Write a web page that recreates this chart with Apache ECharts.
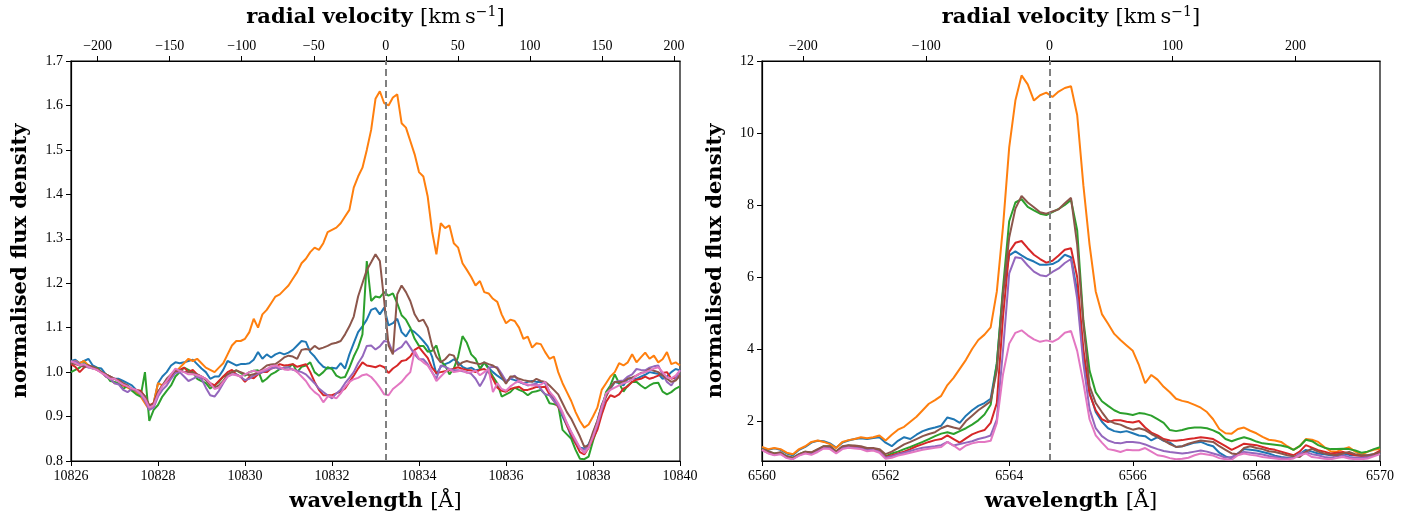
<!DOCTYPE html>
<html>
<head>
<meta charset="utf-8">
<script src="https://cdn.jsdelivr.net/npm/echarts@6/dist/echarts.min.js"></script>
<style>
  html, body { margin: 0; padding: 0; background: #fff; }
  #chart { width: 1419px; height: 520px; }
</style>
</head>
<body>
<div id="chart"></div>
<script>
// ---------- Left panel (He I 10830) ----------
const LEFT_START = 10826, LEFT_STEP = 0.1, LEFT_N = 141;
const LAMBDA0_LEFT = 10833.24;
const leftXTicks = [10826, 10840, 2];
const leftVelRange = [-218.5, 204.2];
const leftVelTicks = [-200, -150, -100, -50, 0, 50, 100, 150, 200];

const leftBlue = [1.025,1.028,1.02,1.025,1.03,1.015,1.01,1.008,0.995,0.99,
0.985,0.985,0.98,0.975,0.97,0.96,0.955,0.945,0.92,0.93,
0.975,0.99,1.0,1.015,1.022,1.02,1.022,1.025,1.028,1.018,
1.008,1.0,0.985,0.99,0.99,1.005,1.025,1.02,1.015,1.018,
1.018,1.02,1.028,1.045,1.03,1.04,1.033,1.04,1.044,1.04,
1.044,1.05,1.06,1.07,1.068,1.045,1.035,1.022,1.012,1.008,
1.01,1.008,1.02,1.008,1.04,1.065,1.09,1.103,1.118,1.14,
1.144,1.13,1.145,1.105,1.11,1.12,1.09,1.08,1.096,1.09,
1.081,1.07,1.058,1.035,0.995,1.012,1.018,1.022,1.029,1.022,
1.012,1.007,1.01,1.004,1.006,1.022,1.01,1.0,0.992,0.985,
0.978,0.985,0.982,0.978,0.974,0.978,0.98,0.978,0.978,0.975,
0.955,0.94,0.925,0.9,0.88,0.855,0.84,0.83,0.828,0.838,
0.86,0.89,0.925,0.95,0.962,0.978,0.975,0.97,0.985,0.985,
0.985,0.99,0.994,1.0,0.998,0.996,0.985,0.99,1.0,1.007,1.004];

const leftOrange = [1.02,1.025,1.02,1.025,1.015,1.01,1.005,1.0,0.99,0.985,
0.975,0.975,0.97,0.965,0.96,0.955,0.945,0.93,0.915,0.93,
0.975,0.97,0.98,0.99,1.0,1.01,1.02,1.03,1.025,1.03,
1.02,1.01,1.005,1.0,1.01,1.02,1.04,1.06,1.07,1.07,
1.075,1.09,1.12,1.10,1.13,1.14,1.155,1.17,1.175,1.185,
1.195,1.21,1.225,1.245,1.255,1.27,1.28,1.275,1.29,1.315,
1.32,1.325,1.335,1.35,1.365,1.415,1.44,1.46,1.5,1.545,
1.615,1.632,1.605,1.6,1.618,1.625,1.56,1.55,1.52,1.49,
1.45,1.44,1.395,1.317,1.265,1.335,1.324,1.33,1.29,1.28,
1.245,1.23,1.214,1.195,1.205,1.18,1.177,1.165,1.158,1.13,
1.11,1.118,1.115,1.1,1.075,1.08,1.055,1.065,1.063,1.045,
1.03,1.035,1.0,0.975,0.955,0.935,0.91,0.89,0.875,0.882,
0.9,0.92,0.96,0.975,0.99,1.0,1.02,1.015,1.022,1.04,
1.022,1.033,1.044,1.03,1.037,1.022,1.029,1.045,1.018,1.022,1.015];

const leftGreen = [1.0,1.005,1.01,1.02,1.012,1.008,1.01,1.0,0.995,0.98,
0.978,0.975,0.962,0.97,0.958,0.95,0.945,1.0,0.89,0.915,
0.926,0.945,0.958,0.97,0.99,1.0,1.01,1.005,1.0,0.985,
0.98,0.975,0.963,0.97,0.978,0.99,0.995,1.0,1.004,0.998,
0.992,1.0,1.003,1.004,0.978,0.985,0.995,1.0,1.007,1.01,
1.011,1.018,1.0,1.012,1.015,1.022,1.0,0.992,1.0,1.011,
1.007,0.992,0.987,0.989,1.01,1.035,1.055,1.085,1.25,1.16,
1.17,1.168,1.18,1.172,1.177,1.155,1.128,1.118,1.1,1.075,
1.059,1.059,1.046,1.048,1.06,1.025,1.015,0.995,1.008,1.035,
1.081,1.066,1.04,1.03,1.008,1.022,1.007,0.99,0.975,0.945,
0.95,0.955,0.965,0.96,0.956,0.948,0.955,0.957,0.96,0.95,
0.93,0.928,0.925,0.87,0.86,0.85,0.825,0.805,0.804,0.81,
0.845,0.875,0.915,0.955,0.97,0.995,0.975,0.956,0.97,0.978,
0.978,0.97,0.963,0.97,0.975,0.976,0.956,0.95,0.955,0.963,0.968];

const leftRed = [1.018,1.012,1.0,1.01,1.015,1.01,1.005,1.0,0.995,0.99,
0.985,0.98,0.97,0.968,0.962,0.96,0.958,0.945,0.925,0.93,
0.955,0.97,0.978,0.99,1.0,1.005,1.01,1.0,1.005,0.995,
0.99,0.985,0.975,0.97,0.98,0.99,1.0,1.005,0.995,0.99,
0.978,0.989,0.986,0.995,1.0,1.0,1.008,1.011,1.018,1.015,
1.016,1.018,1.012,1.015,1.018,1.0,0.978,0.96,0.948,0.948,
0.948,0.952,0.956,0.963,0.978,0.992,1.008,1.022,1.015,1.013,
1.011,1.015,1.011,0.998,1.008,1.015,1.025,1.027,1.035,1.05,
1.056,1.044,1.032,1.01,0.998,1.0,1.002,1.004,1.008,1.011,
1.007,1.005,1.004,1.0,1.005,1.007,1.0,0.985,0.965,0.958,
0.956,0.962,0.965,0.967,0.96,0.96,0.963,0.967,0.966,0.967,
0.95,0.935,0.922,0.906,0.88,0.86,0.84,0.82,0.815,0.83,
0.85,0.87,0.904,0.933,0.948,0.944,0.95,0.963,0.968,0.978,
0.983,0.985,0.99,0.985,0.988,0.992,0.998,1.0,0.985,0.988,0.992];

const leftPurple = [1.02,1.025,1.018,1.015,1.01,1.012,1.005,1.0,0.99,0.985,
0.975,0.972,0.96,0.955,0.962,0.958,0.95,0.935,0.915,0.92,
0.945,0.96,0.97,0.985,0.998,1.0,0.99,0.98,0.985,0.99,
0.985,0.965,0.948,0.945,0.958,0.975,0.99,0.995,0.995,0.989,
0.982,0.985,0.992,0.996,1.0,1.004,1.008,1.011,1.007,1.01,
1.011,1.005,1.003,1.0,0.995,0.985,0.975,0.963,0.955,0.948,
0.941,0.952,0.96,0.975,0.987,1.0,1.02,1.035,1.059,1.06,
1.051,1.058,1.07,1.068,1.044,1.051,1.057,1.07,1.055,1.04,
1.029,1.029,1.018,1.0,0.985,1.015,1.012,1.007,1.005,1.004,
1.002,1.0,0.996,0.985,0.968,0.985,1.01,1.012,1.011,0.996,
0.98,0.985,0.992,0.978,0.974,0.97,0.972,0.974,0.962,0.95,
0.948,0.935,0.925,0.905,0.885,0.865,0.845,0.828,0.825,0.835,
0.855,0.88,0.915,0.945,0.965,0.978,0.98,0.981,0.99,0.995,
1.007,1.005,1.004,1.01,1.013,1.015,0.995,0.978,0.97,0.985,1.005];

const leftBrown = [1.02,1.018,1.015,1.012,1.015,1.012,1.008,1.0,0.995,0.99,
0.985,0.982,0.975,0.97,0.962,0.96,0.955,0.945,0.925,0.928,
0.955,0.97,0.985,0.995,1.003,1.005,1.0,1.0,0.998,0.995,
0.99,0.982,0.97,0.965,0.97,0.98,0.995,1.0,1.004,1.0,
0.996,0.993,0.995,1.0,1.007,1.015,1.017,1.018,1.025,1.033,
1.037,1.035,1.03,1.05,1.052,1.05,1.059,1.052,1.055,1.059,
1.064,1.066,1.07,1.085,1.103,1.125,1.17,1.2,1.23,1.247,
1.265,1.25,1.16,1.06,1.04,1.175,1.195,1.18,1.16,1.13,
1.114,1.118,1.1,1.059,1.035,1.022,1.029,1.04,1.037,1.015,
1.022,1.025,1.022,1.02,1.018,1.022,1.018,1.015,1.008,0.99,
0.974,0.99,0.99,0.985,0.982,0.98,0.978,0.985,0.98,0.978,
0.97,0.96,0.95,0.93,0.91,0.895,0.875,0.855,0.832,0.835,
0.865,0.89,0.925,0.945,0.965,0.978,0.978,0.978,0.985,0.988,
0.992,0.998,1.0,1.007,1.003,1.0,0.992,0.985,0.978,0.981,0.992];

const leftPink = [1.025,1.02,1.015,1.018,1.012,1.008,1.005,0.998,0.993,0.985,
0.985,0.978,0.972,0.968,0.963,0.96,0.952,0.94,0.92,0.925,
0.95,0.968,0.98,0.995,1.008,1.003,1.0,0.995,0.995,0.993,
0.99,0.985,0.975,0.962,0.965,0.978,0.99,0.995,0.993,0.99,
0.995,1.0,1.003,1.0,1.003,1.007,1.013,1.015,1.011,1.006,
1.005,1.007,1.0,0.99,0.98,0.965,0.955,0.948,0.932,0.945,
0.945,0.941,0.952,0.967,0.978,0.984,0.987,0.993,0.995,0.989,
0.978,0.965,0.95,0.948,0.962,0.97,0.978,0.99,1.0,1.048,
1.03,1.022,1.015,1.0,0.98,0.99,1.0,1.007,1.0,1.002,
1.004,0.998,1.0,1.004,0.993,1.0,1.007,0.955,0.975,0.962,
0.958,0.968,0.975,0.98,0.975,0.972,0.97,0.97,0.972,0.978,
0.956,0.945,0.93,0.91,0.885,0.865,0.848,0.83,0.818,0.83,
0.855,0.885,0.92,0.952,0.96,0.965,0.97,0.975,0.978,0.983,
0.993,0.997,1.0,1.004,1.008,1.011,1.0,0.988,0.986,0.992,1.004];

// ---------- Right panel (H alpha) ----------
const RIGHT_START = 6560, RIGHT_STEP = 0.1, RIGHT_N = 101;
const LAMBDA0_RIGHT = 6564.66;
const rightXTicks = [6560, 6570, 2];
const rightYTicks = [2, 4, 6, 8, 10, 12];
const rightYRange = [0.89, 12];
const rightVelRange = [-233.5, 268.6];
const rightVelTicks = [-200, -100, 0, 100, 200];

const rightBlue = [1.27,1.2,1.24,1.2,1.1,1.05,1.2,1.28,1.4,1.45,
1.44,1.38,1.26,1.4,1.46,1.5,1.52,1.5,1.53,1.55,
1.4,1.3,1.45,1.55,1.5,1.62,1.72,1.78,1.82,1.87,
2.1,2.05,1.95,2.15,2.3,2.42,2.5,2.62,3.6,5.6,
6.6,6.71,6.6,6.5,6.43,6.34,6.34,6.36,6.45,6.62,
6.55,5.6,3.8,2.8,2.25,1.98,1.8,1.72,1.69,1.72,
1.66,1.6,1.58,1.46,1.55,1.45,1.4,1.28,1.3,1.35,
1.4,1.42,1.35,1.3,1.12,1.02,0.96,1.1,1.22,1.2,
1.18,1.14,1.1,1.04,1.0,0.98,0.98,1.08,1.2,1.15,
1.1,1.08,1.05,1.08,1.1,1.06,1.05,1.04,1.05,1.08,1.12];

const rightOrange = [1.28,1.22,1.25,1.22,1.12,1.08,1.22,1.3,1.42,1.46,
1.42,1.36,1.25,1.42,1.47,1.5,1.55,1.52,1.55,1.6,
1.46,1.62,1.76,1.84,1.98,2.12,2.3,2.48,2.58,2.7,
3.0,3.2,3.45,3.7,4.0,4.25,4.4,4.6,5.6,7.4,
9.6,10.9,11.6,11.35,10.9,11.05,11.12,11.0,11.15,11.25,
11.3,10.5,8.55,6.9,5.6,4.97,4.7,4.42,4.25,4.1,
3.95,3.55,3.05,3.28,3.15,2.95,2.8,2.62,2.56,2.52,
2.45,2.37,2.25,2.05,1.78,1.66,1.65,1.78,1.82,1.73,
1.66,1.56,1.48,1.46,1.42,1.3,1.2,1.3,1.5,1.48,
1.42,1.28,1.16,1.15,1.22,1.27,1.15,1.06,1.15,1.2,1.23];

const rightGreen = [1.22,1.15,1.1,1.12,1.02,0.98,1.08,1.15,1.12,1.2,
1.3,1.3,1.15,1.28,1.32,1.3,1.27,1.22,1.22,1.18,
1.02,1.1,1.15,1.22,1.28,1.35,1.42,1.5,1.58,1.65,
1.69,1.64,1.72,1.8,1.9,2.02,2.18,2.45,3.6,5.7,
7.55,8.07,8.16,7.95,7.85,7.76,7.72,7.8,7.89,8.0,
8.14,7.3,4.8,3.4,2.8,2.55,2.42,2.3,2.22,2.2,
2.17,2.22,2.2,2.15,2.05,1.95,1.75,1.72,1.75,1.8,
1.82,1.82,1.8,1.74,1.66,1.5,1.44,1.5,1.55,1.5,
1.43,1.38,1.36,1.34,1.32,1.28,1.2,1.3,1.48,1.44,
1.33,1.26,1.22,1.22,1.23,1.22,1.18,1.12,1.15,1.22,1.27];

const rightRed = [1.2,1.12,1.07,1.1,0.99,0.96,1.06,1.14,1.1,1.18,
1.28,1.27,1.13,1.26,1.3,1.28,1.25,1.2,1.2,1.17,
1.0,1.05,1.1,1.15,1.22,1.3,1.36,1.42,1.47,1.5,
1.6,1.5,1.4,1.52,1.63,1.7,1.75,1.95,2.5,4.9,
6.7,6.95,7.0,6.8,6.62,6.5,6.4,6.45,6.6,6.76,
6.8,6.0,4.0,2.75,2.3,2.05,1.97,2.02,2.02,1.98,
1.96,2.0,1.82,1.68,1.6,1.5,1.46,1.45,1.47,1.5,
1.52,1.55,1.53,1.5,1.4,1.3,1.2,1.28,1.37,1.35,
1.33,1.28,1.23,1.2,1.15,1.1,1.05,1.15,1.33,1.26,
1.19,1.15,1.1,1.12,1.14,1.1,1.05,1.03,1.0,1.08,1.18];

const rightPurple = [1.2,1.12,1.06,1.1,0.98,0.95,1.05,1.12,1.08,1.16,
1.26,1.25,1.12,1.25,1.28,1.26,1.24,1.19,1.2,1.15,
0.98,1.02,1.08,1.12,1.17,1.22,1.26,1.28,1.3,1.33,
1.42,1.32,1.36,1.4,1.44,1.5,1.54,1.6,2.05,3.97,
6.1,6.55,6.52,6.32,6.15,6.05,6.02,6.14,6.24,6.39,
6.5,5.4,3.6,2.33,1.8,1.58,1.46,1.4,1.38,1.42,
1.42,1.4,1.35,1.28,1.22,1.17,1.14,1.12,1.1,1.12,
1.15,1.18,1.15,1.1,1.05,0.98,1.0,1.1,1.14,1.12,
1.1,1.07,1.03,1.0,0.97,0.96,0.98,1.1,1.14,1.08,
1.05,1.0,0.98,1.02,1.05,1.0,0.98,0.98,1.0,1.05,1.1];

const rightBrown = [1.22,1.16,1.1,1.13,1.02,0.98,1.08,1.15,1.13,1.22,
1.3,1.3,1.16,1.3,1.33,1.32,1.3,1.25,1.25,1.22,
1.08,1.15,1.25,1.35,1.42,1.5,1.58,1.64,1.69,1.8,
1.87,1.82,1.78,2.0,2.15,2.3,2.42,2.55,3.4,5.5,
7.1,7.9,8.25,8.07,7.94,7.8,7.76,7.82,7.88,8.05,
8.2,6.9,4.7,2.97,2.5,2.25,2.02,1.94,1.9,1.82,
1.76,1.8,1.75,1.64,1.55,1.46,1.36,1.28,1.3,1.37,
1.42,1.46,1.44,1.42,1.3,1.2,1.1,1.08,1.25,1.3,
1.25,1.22,1.16,1.14,1.1,1.05,1.02,1.0,1.15,1.23,
1.15,1.1,1.07,1.05,1.1,1.14,1.08,1.05,1.05,1.08,1.14];

const rightPink = [1.2,1.1,1.05,1.08,0.97,0.94,1.04,1.1,1.06,1.14,
1.24,1.22,1.1,1.22,1.26,1.24,1.22,1.16,1.18,1.12,
0.95,0.98,1.04,1.08,1.12,1.16,1.2,1.23,1.26,1.28,
1.42,1.32,1.2,1.32,1.38,1.42,1.42,1.45,1.95,3.3,
4.15,4.45,4.52,4.38,4.27,4.2,4.24,4.2,4.29,4.45,
4.5,3.95,3.06,2.05,1.6,1.4,1.22,1.19,1.14,1.2,
1.19,1.19,1.25,1.15,1.05,1.02,0.97,0.94,0.95,0.98,
1.05,1.1,1.07,1.04,0.97,0.94,0.93,1.05,1.1,1.06,
1.04,1.0,0.98,0.96,0.94,0.93,0.96,1.05,1.1,1.0,
0.98,0.95,0.94,0.97,1.0,0.96,0.94,0.94,0.96,1.02,1.08];

const colors = ['#1f77b4', '#ff7f0e', '#2ca02c', '#d62728', '#9467bd', '#8c564b', '#e377c2'];
const leftSeries = [leftBlue, leftOrange, leftGreen, leftRed, leftPurple, leftBrown, leftPink];
const rightSeries = [rightBlue, rightOrange, rightGreen, rightRed, rightPurple, rightBrown, rightPink];

// ---------- build ----------
const wlLeft = Array.from({length: LEFT_N}, (_, i) => +(LEFT_START + LEFT_STEP * i).toFixed(2));
const wlRight = Array.from({length: RIGHT_N}, (_, i) => +(RIGHT_START + RIGHT_STEP * i).toFixed(2));

const SERIF = "'Liberation Serif', 'DejaVu Serif', serif";
const NAMEFONT = "'DejaVu Serif', serif";
const minus = v => String(v).replace('-', '\u2212');
const plain = v => String(v);

const axisLineStyle = { show: true, onZero: false, lineStyle: { color: '#000', width: 1.2 } };
const tickStyle = { show: true, inside: false, length: 5, lineStyle: { color: '#000', width: 1 } };
const labelStyle = { color: '#000', fontSize: 14, fontFamily: SERIF };

function wlAxis(grid, ticks) {
  return {
    type: 'value', gridIndex: grid, position: 'bottom',
    min: ticks[0], max: ticks[1], interval: ticks[2],
    axisLine: axisLineStyle, axisTick: tickStyle,
    axisLabel: Object.assign({ margin: 8, formatter: plain }, labelStyle),
    splitLine: { show: false },
    name: '{b|wavelength }{n|[Å]}', nameLocation: 'middle', nameGap: 30,
    nameTextStyle: { rich: {
      b: { fontFamily: NAMEFONT, fontWeight: 'bold', fontSize: 21, color: '#000' },
      n: { fontFamily: NAMEFONT, fontSize: 21, color: '#000' } } }
  };
}
function velAxis(grid, range, ticks) {
  return {
    type: 'value', gridIndex: grid, position: 'top',
    min: range[0], max: range[1],
    axisLine: axisLineStyle,
    axisTick: Object.assign({ customValues: ticks }, tickStyle),
    axisLabel: Object.assign({ margin: 8, customValues: ticks, formatter: minus }, labelStyle),
    splitLine: { show: false },
    name: '{b|radial velocity }{n|[km\u2009s}{s|\u22121}{n|]}', nameLocation: 'middle', nameGap: 30,
    nameTextStyle: { rich: {
      b: { fontFamily: NAMEFONT, fontWeight: 'bold', fontSize: 21, color: '#000', lineHeight: 26 },
      n: { fontFamily: NAMEFONT, fontSize: 21, color: '#000', lineHeight: 26 },
      s: { fontFamily: NAMEFONT, fontSize: 14, color: '#000', verticalAlign: 'top', lineHeight: 26 } } }
  };
}
const yName = 'normalised flux density';
const yNameStyle = { fontFamily: NAMEFONT, fontWeight: 'bold', fontSize: 21, color: '#000' };

const series = [];
function addSeries(arrs, wl, xi, yi, lambda0) {
  arrs.forEach((arr, k) => {
    const s = {
      type: 'line', xAxisIndex: xi, yAxisIndex: yi,
      data: wl.map((x, i) => [x, arr[i]]),
      showSymbol: false, symbol: 'none',
      lineStyle: { color: colors[k], width: 2 },
      itemStyle: { color: colors[k] },
      silent: true, clip: true, z: 2 + k * 0.01
    };
    if (k === arrs.length - 1) {
      s.markLine = {
        silent: true, symbol: ['none', 'none'], label: { show: false },
        lineStyle: { color: '#808080', type: [7, 4], width: 2 },
        data: [{ xAxis: lambda0 }], animation: false
      };
    }
    series.push(s);
  });
}
addSeries(leftSeries, wlLeft, 0, 0, LAMBDA0_LEFT);
addSeries(rightSeries, wlRight, 2, 1, LAMBDA0_RIGHT);

const option = {
  animation: false,
  backgroundColor: '#ffffff',
  grid: [
    { left: 71, top: 54, width: 609, height: 407, show: true, borderColor: '#000', borderWidth: 1.2, backgroundColor: 'transparent' },
    { left: 762, top: 54, width: 618, height: 407, show: true, borderColor: '#000', borderWidth: 1.2, backgroundColor: 'transparent' }
  ],
  xAxis: [
    wlAxis(0, leftXTicks),
    velAxis(0, leftVelRange, leftVelTicks),
    wlAxis(1, rightXTicks),
    velAxis(1, rightVelRange, rightVelTicks)
  ],
  yAxis: [
    { type: 'value', gridIndex: 0, min: 0.8, max: 1.7, interval: 0.1, position: 'left',
      axisLine: axisLineStyle, axisTick: tickStyle,
      axisLabel: Object.assign({ margin: 8, formatter: v => v.toFixed(1) }, labelStyle),
      splitLine: { show: false },
      name: yName, nameLocation: 'middle', nameGap: 40, nameTextStyle: yNameStyle },
    { type: 'value', gridIndex: 1, min: rightYRange[0], max: rightYRange[1], position: 'left',
      axisLine: axisLineStyle,
      axisTick: Object.assign({ customValues: rightYTicks }, tickStyle),
      axisLabel: Object.assign({ margin: 8, customValues: rightYTicks, formatter: plain }, labelStyle),
      splitLine: { show: false },
      name: yName, nameLocation: 'middle', nameGap: 36, nameTextStyle: yNameStyle }
  ],
  series: series
};

const chart = echarts.init(document.getElementById('chart'), null, { renderer: 'canvas' });
chart.setOption(option);
</script>
</body>
</html>
